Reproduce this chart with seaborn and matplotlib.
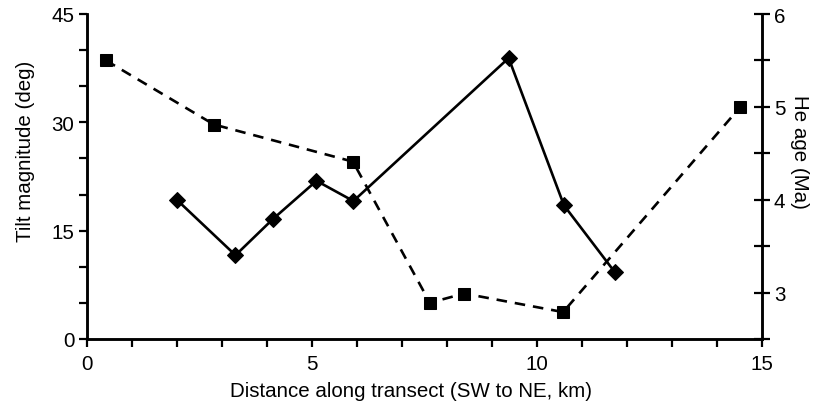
import matplotlib
matplotlib.use("Agg")
import matplotlib.pyplot as plt
import seaborn as sns
import pandas as pd
from matplotlib.ticker import MultipleLocator

sns.set_style("ticks")
plt.rcParams['font.family'] = ['Liberation Sans', 'DejaVu Sans']
for k in ('text.color', 'axes.labelcolor', 'xtick.color', 'ytick.color', 'axes.edgecolor'):
    plt.rcParams[k] = 'black'

# Tilt magnitude (diamonds, solid line, left axis)
tilt_x = [2.0, 3.3, 4.13, 5.1, 5.92, 9.37, 10.6, 11.73]
tilt_y = [19.25, 11.6, 16.6, 21.9, 19.1, 38.9, 18.5, 9.25]

# He age (squares, dashed line, right axis)
age_x = [0.42, 2.82, 5.91, 7.62, 8.38, 10.58, 14.52]
age_y = [5.50, 4.81, 4.41, 2.89, 2.99, 2.79, 5.00]

df_tilt = pd.DataFrame({"x": tilt_x, "y": tilt_y})
df_age = pd.DataFrame({"x": age_x, "y": age_y})

fig = plt.figure(figsize=(8.14, 4.06), dpi=100)
ax = fig.add_axes([87/814, 1 - 340/406, (762-87)/814, (340-15)/406])
ax2 = ax.twinx()

sns.lineplot(data=df_tilt, x="x", y="y", ax=ax, color="black", lw=1.9,
             marker="D", markersize=8.5, markeredgecolor="black", sort=False)
sns.lineplot(data=df_age, x="x", y="y", ax=ax2, color="black", lw=1.9,
             linestyle=(0, (4, 3)), marker="s", markersize=9,
             markeredgecolor="black", sort=False)

ax.set_xlim(0, 15)
ax.set_ylim(0, 45)
ax2.set_ylim(2.5, 6)

ax.xaxis.set_major_locator(MultipleLocator(5))
ax.xaxis.set_minor_locator(MultipleLocator(1))
ax.yaxis.set_major_locator(MultipleLocator(15))
ax.yaxis.set_minor_locator(MultipleLocator(5))
ax2.yaxis.set_major_locator(MultipleLocator(1))
ax2.yaxis.set_minor_locator(MultipleLocator(0.5))

for a in (ax, ax2):
    for s in a.spines.values():
        s.set_linewidth(1.8)
        s.set_color('black')
    a.spines['top'].set_visible(False)

fs = 14.8
ax.tick_params(axis='both', which='both', direction='out', width=1.6,
               length=6, labelsize=fs, colors='black', pad=5)
ax.tick_params(axis='y', which='both', pad=3)
ax2.tick_params(axis='y', which='both', direction='inout', width=1.6,
                length=11, labelsize=fs, pad=3, colors='black')

ax.set_xlabel("Distance along transect (SW to NE, km)", fontsize=fs)
ax.set_ylabel("Tilt magnitude (deg)", fontsize=fs)
ax2.set_ylabel("He age (Ma)", fontsize=fs, rotation=270, va='center')
ax.xaxis.set_label_coords(0.48, -0.13)
ax.yaxis.set_label_coords(-0.077, 0.58)
ax2.yaxis.set_label_coords(1.056, 0.58)

fig.savefig("out.png", dpi=100)
